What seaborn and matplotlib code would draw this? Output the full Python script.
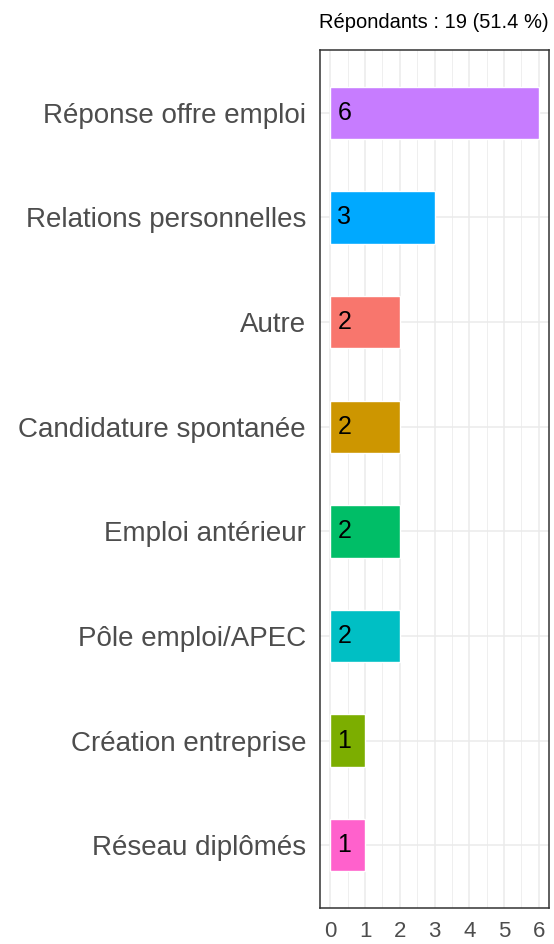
import numpy as np
import pandas as pd
import matplotlib
matplotlib.use('Agg')
import matplotlib.pyplot as plt
import seaborn as sns

# données
categories = ['Réponse offre emploi', 'Relations personnelles', 'Autre',
              'Candidature spontanée', 'Emploi antérieur', 'Pôle emploi/APEC',
              'Création entreprise', 'Réseau diplômés']
counts = [6, 3, 2, 2, 2, 2, 1, 1]
colors = ['#C77CFF', '#00A9FF', '#F8766D', '#CD9600', '#00BE67', '#00BFC4',
          '#7CAE00', '#FF61CC']
title = 'Répondants : 19 (51.4 %)'

df = pd.DataFrame({'categorie': categories, 'n': counts})

sns.set_style('white')
plt.rcParams['font.family'] = ['Liberation Sans', 'DejaVu Sans']

fig = plt.figure(figsize=(5.54, 9.44), dpi=100)
ax = fig.add_axes([0.5776, 0.0381, 0.4134, 0.9089])

sns.barplot(data=df, x='n', y='categorie', hue='categorie',
            palette=dict(zip(categories, colors)), width=0.5,
            orient='h', legend=False, ax=ax, zorder=3, saturation=1)

# étiquettes dans les barres
for i, v in enumerate(counts):
    ax.text(0.2, i, str(v), ha='left', va='center', fontsize=18,
            color='black', zorder=4)

ax.set_xlim(-0.3, 6.3)
ax.set_ylim(len(categories) - 0.4, -0.6)
ax.set_xticks(range(7))
ax.set_xticks(np.arange(0.5, 6, 1), minor=True)

ax.grid(True, which='major', axis='both', color='#EBEBEB', lw=1.1, zorder=0)
ax.grid(True, which='minor', axis='x', color='#EBEBEB', lw=0.55, zorder=0)
ax.set_axisbelow(True)

for s in ax.spines.values():
    s.set_color('#333333')
    s.set_linewidth(1.1)

ax.tick_params(axis='both', which='major', length=5, width=1.1,
               color='#333333', labelcolor='#4D4D4D', pad=4)
ax.tick_params(axis='y', labelsize=20, pad=5)
ax.tick_params(axis='x', labelsize=16)
ax.tick_params(axis='both', which='minor', length=0)
ax.set_xlabel('')
ax.set_ylabel('')

ax.set_title(title, loc='right', fontsize=14.5, pad=16, color='black')

fig.savefig('out.png', dpi=100)
